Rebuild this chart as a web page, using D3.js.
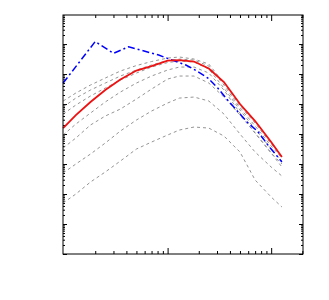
<!DOCTYPE html>
<html>
<head>
<meta charset="utf-8">
<script src="https://cdn.jsdelivr.net/npm/d3@7"></script>
<style>
  body { margin: 0; background: #fff; }
  .frame { fill: none; stroke: #000; stroke-width: 1; }
  .axis path { display: none; }
  .axis line { stroke: #000; stroke-width: 1; }
  .line { fill: none; }
</style>
</head>
<body>
<div id="chart"></div>
<script>
// shared x grid for the red curve and the grey family
var xGrid = [0.098, 0.13, 0.18, 0.25, 0.35, 0.5, 0.7, 1.0, 1.3, 1.8, 2.5, 3.5, 5, 7, 10, 12.7];

var redValues = [15850, 43000, 117000, 293000, 656000, 1.31e6, 1.85e6, 2.82e6, 2.93e6, 2.61e6, 1.53e6, 541000, 100000, 27100, 5410, 1710];

var blueX = [0.098, 0.2, 0.3, 0.42, 0.82, 1.1, 1.5, 1.85, 2.45, 3.05, 3.8, 4.8, 6.0, 7.5, 9.3, 12.7];
var blueValues = [5.01e5, 1.21e7, 4.9e6, 8.13e6, 4.3e6, 2.93e6, 2.0e6, 1.36e6, 7.36e5, 3.42e5, 1.36e5, 5.41e4, 2.33e4, 1.17e4, 4300, 1170];

var grey1 = [126000, 233000, 430000, 736000, 1.26e6, 1.92e6, 2.61e6, 3.42e6, 3.69e6, 3.16e6, 2.15e6, 501000, 85800, 23300, 4640, 1850];
var grey2 = [79400, 158000, 293000, 501000, 858000, 1.36e6, 2.0e6, 2.82e6, 3.16e6, 2.93e6, 1.85e6, 430000, 73600, 18500, 3980, 1590];
var grey3 = [46400, 92600, 185000, 341000, 631000, 1.08e6, 1.71e6, 2.42e6, 2.71e6, 2.51e6, 1.47e6, 341000, 63100, 14700, 3160, 1260];
var grey4 = [9260, 21500, 50100, 117000, 251000, 501000, 858000, 1.36e6, 1.71e6, 1.71e6, 1.08e6, 293000, 50100, 10800, 2330, 1000];
var grey5 = [3420, 7360, 20000, 39800, 68100, 147000, 316000, 681000, 858000, 858000, 501000, 171000, 43000, 10800, 2330, 794];
var grey6 = [501, 1000, 2150, 5010, 12600, 29300, 58400, 108000, 158000, 171000, 126000, 46400, 10000, 2510, 794, 398];
var grey7 = [50.1, 100, 251, 541, 1260, 3160, 5410, 9260, 13600, 17100, 15800, 8580, 2510, 293, 79.4, 36.9];

var xMajor = [1, 10];
var yMajorExp = [0, 1, 2, 3, 4, 5, 6, 7];

var margin = { top: 15, right: 26, bottom: 46, left: 63 };
var w = 240, h = 239;

var x = d3.scaleLog().domain([0.0977, 20.3]).range([0, w]);
var y = d3.scaleLog().domain([1, 9.3e7]).range([h, 0]);

var svg = d3.select('#chart')
  .append('svg')
  .attr('width', 329)
  .attr('height', 300)
  .append('g')
  .attr('transform', 'translate(' + margin.left + ',' + margin.top + ')');

// minor ticks: 2..9 in every decade that falls inside the domain
var xMinor = [];
[0.1, 1, 10].forEach(function(d) {
  for (var k = 2; k <= 9; k++) {
    var v = d * k;
    if (v > x.domain()[0] && v < x.domain()[1]) xMinor.push(v);
  }
});
var yMajor = yMajorExp.map(function(e) { return Math.pow(10, e); });
var yMinor = [];
yMajor.forEach(function(d) {
  for (var k = 2; k <= 9; k++) {
    var v = d * k;
    if (v < y.domain()[1]) yMinor.push(v);
  }
});

function addAxis(axisFn, scale, vals, size, transform) {
  svg.append('g')
    .attr('class', 'axis')
    .attr('transform', transform)
    .call(axisFn(scale).tickValues(vals).tickSize(-size).tickFormat(''));
}

addAxis(d3.axisBottom, x, xMajor, 6, 'translate(0,' + h + ')');
addAxis(d3.axisBottom, x, xMinor, 3, 'translate(0,' + h + ')');
addAxis(d3.axisTop, x, xMajor, 6, 'translate(0,0)');
addAxis(d3.axisTop, x, xMinor, 3, 'translate(0,0)');
addAxis(d3.axisLeft, y, yMajor, 4, 'translate(0,0)');
addAxis(d3.axisLeft, y, yMinor, 2, 'translate(0,0)');
addAxis(d3.axisRight, y, yMajor, 4, 'translate(' + w + ',0)');
addAxis(d3.axisRight, y, yMinor, 2, 'translate(' + w + ',0)');

var plot = svg.append('g');

var line = d3.line()
  .x(function(d) { return x(d[0]); })
  .y(function(d) { return y(d[1]); });

[grey7, grey6, grey5, grey4, grey3, grey2, grey1].forEach(function(vals) {
  plot.append('path')
    .datum(xGrid.map(function(v, i) { return [v, vals[i]]; }))
    .attr('class', 'line')
    .attr('d', line)
    .attr('stroke', '#888')
    .attr('stroke-width', 0.9)
    .attr('stroke-dasharray', '3,3');
});

plot.append('path')
  .datum(blueX.map(function(v, i) { return [v, blueValues[i]]; }))
  .attr('class', 'line')
  .attr('d', line)
  .attr('stroke', '#0000ff')
  .attr('stroke-width', 1.5)
  .attr('stroke-dasharray', '7,3,2,3');

plot.append('path')
  .datum(xGrid.map(function(v, i) { return [v, redValues[i]]; }))
  .attr('class', 'line')
  .attr('d', line)
  .attr('stroke', '#ee1111')
  .attr('stroke-width', 1.8);

svg.append('rect')
  .attr('class', 'frame')
  .attr('x', 0)
  .attr('y', 0)
  .attr('width', w)
  .attr('height', h);
</script>
</body>
</html>
